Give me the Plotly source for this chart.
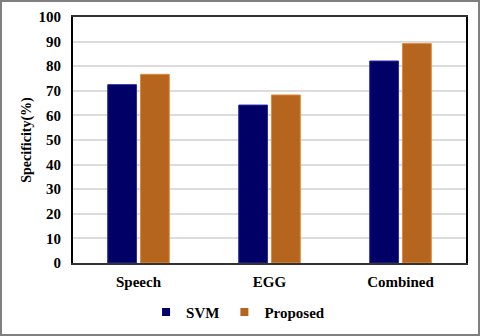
import plotly.graph_objects as go

categories = ["Speech", "EGG", "Combined"]
svm = [72.5, 64.2, 82.1]
proposed = [76.7, 68.3, 89.2]
y_ticks = [0, 10, 20, 30, 40, 50, 60, 70, 80, 90, 100]
series_names = ["SVM", "Proposed"]
series_colors = ["#000066", "#b5651d"]
edge_colors = ["#2a2aa0", "#e08a3c"]

W, H = 480, 336
L, R, T, B = 73, 14, 17, 73
pw, ph = W - L - R, H - T - B

font = "Liberation Serif, Times New Roman, serif"

fig = go.Figure()
for name, vals, col, edge in zip(series_names, [svm, proposed], series_colors, edge_colors):
    fig.add_trace(go.Bar(name=name, x=categories, y=vals, showlegend=False,
                         marker=dict(color=col, line=dict(color=edge, width=1))))
# legend entries with small square markers
for name, col in zip(series_names, series_colors):
    fig.add_trace(go.Scatter(name=name, x=[None], y=[None], mode="markers",
                             marker=dict(symbol="square", size=8, color=col)))

fig.update_layout(
    width=W, height=H,
    margin=dict(l=L, r=R, t=T, b=B, autoexpand=False),
    paper_bgcolor="white", plot_bgcolor="white",
    barmode="group", bargap=0.5, bargroupgap=0.12,
    font=dict(family=font, size=15, color="black"),
    showlegend=True,
    legend=dict(orientation="h", x=0.42, xanchor="center", y=-0.2, yanchor="middle",
                font=dict(family=font, size=15, color="black", weight="bold"),
                itemwidth=30, traceorder="normal", tracegroupgap=0),
    xaxis=dict(showline=True, linecolor="#333333", linewidth=2, mirror=True,
               ticks="", showgrid=False,
               tickfont=dict(family=font, size=15, weight="bold"),
               ticklabelstandoff=4),
    yaxis=dict(range=[0, 100], tickvals=y_ticks, showline=True, linecolor="black",
               linewidth=2, mirror=True, ticks="",
               showgrid=True, gridcolor="#dcdcdc", gridwidth=1.5,
               tickfont=dict(family=font, size=15, weight="bold"),
               ticklabelstandoff=7, automargin=False,
               title=dict(text="Specificity(%)", standoff=4,
                          font=dict(family=font, size=14, weight="bold"))),
)

# outer gray frame of the image
fig.add_shape(type="rect", xref="paper", yref="paper",
              x0=(1 - L) / pw, x1=(W - L - 1) / pw,
              y0=-(B - 1) / ph, y1=(ph + T - 1) / ph,
              line=dict(color="#808080", width=2), fillcolor="rgba(0,0,0,0)", layer="below")

fig.write_html("out.html", config={"displayModeBar": False},
               post_script="document.body.style.margin='0';")
